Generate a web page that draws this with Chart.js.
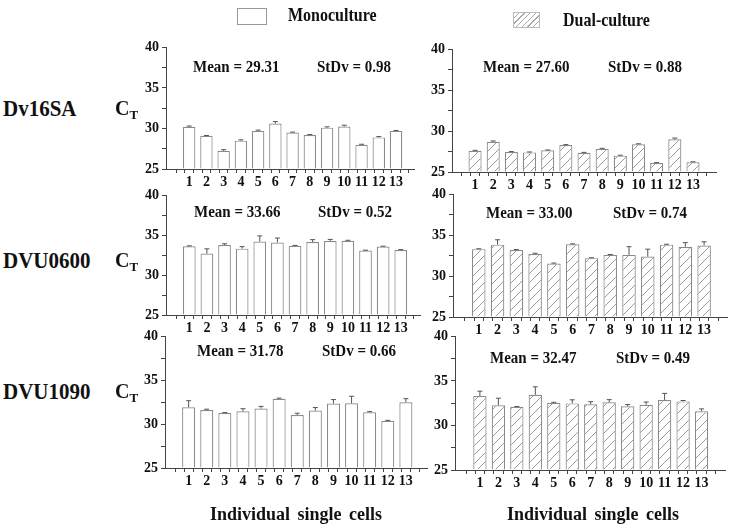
<!DOCTYPE html>
<html>
<head>
<meta charset="utf-8">
<script src="https://cdn.jsdelivr.net/npm/chart.js@4.4.1/dist/chart.umd.min.js"></script>
<style>
  body { margin: 0; background: #fff; }
  #page { position: relative; width: 732px; height: 529px; overflow: hidden;
          font-family: 'Liberation Serif', 'Times New Roman', serif; font-weight: bold; color: #111; }
  #page canvas { position: absolute; }
  .txt { position: absolute; line-height: 1; transform: translateY(-50%); white-space: nowrap; }
  .stat { font-size: 15px; transform: translateY(-50%) scaleY(1.15); }
  .gene { font-size: 21px; transform: translateY(-50%) scaleY(1.08); }
  .ct { font-size: 20px; }
  .ct sub { font-size: 13px; vertical-align: -4px; }
  .xtitle { font-size: 18px; word-spacing: 3px; transform: translate(-50%, -50%) scaleY(1.1); }
  .legtxt { font-size: 16px; transform: translateY(-50%) scaleY(1.15); }
  .box { position: absolute; box-sizing: border-box; border: 1px solid #999; background: #fff; }
  .box.hatch { border-color: #bbb;
    background: repeating-linear-gradient(135deg, #fff 0px, #fff 3px, #aaa 3px, #aaa 4px); }
</style>
</head>
<body>
<div id="page"></div>
<script>
// individual single cells (x axis)
const cells = [1, 2, 3, 4, 5, 6, 7, 8, 9, 10, 11, 12, 13];
const yTickLabels = [25, 30, 35, 40];
const genes = ['Dv16SA', 'DVU0600', 'DVU1090'];
const seriesNames = ['Monoculture', 'Dual-culture'];

// CT values, with error bars
const monoDv16SA     = [30.2, 29.08, 27.24, 28.5, 29.7, 30.6, 29.5, 29.2, 30.1, 30.25, 28.0, 28.9, 29.7];
const monoDv16SAErr  = [0.1, 0.05, 0.15, 0.1, 0.1, 0.25, 0.05, 0.05, 0.1, 0.15, 0.05, 0.1, 0.05];
const dualDv16SA     = [27.6, 28.7, 27.45, 27.4, 27.65, 28.3, 27.35, 27.85, 27.0, 28.4, 26.1, 29.0, 26.2];
const dualDv16SAErr  = [0.05, 0.1, 0.05, 0.05, 0.05, 0.05, 0.05, 0.05, 0.05, 0.05, 0.05, 0.15, 0.05];
const monoDVU0600    = [33.62, 32.7, 33.78, 33.32, 34.22, 34.1, 33.68, 34.15, 34.28, 34.32, 33.08, 33.58, 33.15];
const monoDVU0600Err = [0.05, 0.6, 0.15, 0.25, 0.7, 0.55, 0.05, 0.3, 0.2, 0.05, 0.05, 0.05, 0.05];
const dualDVU0600    = [33.3, 33.85, 33.2, 32.7, 31.55, 33.9, 32.2, 32.6, 32.6, 32.4, 33.85, 33.6, 33.75];
const dualDVU0600Err = [0.05, 0.6, 0.05, 0.1, 0.05, 0.05, 0.05, 0.05, 1.0, 0.9, 0.05, 0.5, 0.45];
const monoDVU1090    = [31.92, 31.6, 31.27, 31.46, 31.77, 32.88, 31.04, 31.54, 32.35, 32.38, 31.35, 30.38, 32.5];
const monoDVU1090Err = [0.75, 0.1, 0.05, 0.3, 0.25, 0.08, 0.2, 0.35, 0.45, 0.8, 0.08, 0.05, 0.4];
const dualDVU1090    = [33.3, 32.26, 32.1, 33.44, 32.55, 32.48, 32.37, 32.6, 32.15, 32.33, 32.85, 32.7, 31.6];
const dualDVU1090Err = [0.55, 0.8, 0.03, 0.9, 0.05, 0.4, 0.3, 0.3, 0.2, 0.3, 0.75, 0.1, 0.26];

const means = ['29.31', '27.60', '33.66', '33.00', '31.78', '32.47'];
const stdvs = ['0.98', '0.88', '0.52', '0.74', '0.66', '0.49'];

// pixel layout of each panel: l/r = x axis ends, x0 = pixel of x=0, t/b = pixel of 40 / 25
const layout = [
  { l: 166, r: 414, x0: 167.4, sp: 17.9,  t: 46,  b: 169, mx: 193, sx: 317, ty: 67 },
  { l: 452, r: 716, x0: 452,   sp: 18.86, t: 48,  b: 172, mx: 483, sx: 608, ty: 67 },
  { l: 166, r: 420, x0: 167,   sp: 18.3,  t: 194, b: 315, mx: 194, sx: 318, ty: 212 },
  { l: 453, r: 727, x0: 455,   sp: 19.5,  t: 193, b: 317, mx: 486, sx: 613, ty: 213 },
  { l: 165, r: 427, x0: 165.7, sp: 18.8,  t: 335, b: 468, mx: 197, sx: 322, ty: 351 },
  { l: 455, r: 725, x0: 456.5, sp: 19.18, t: 335, b: 470, mx: 490, sx: 616, ty: 358 }
];
const panels = [
  [monoDv16SA, monoDv16SAErr], [dualDv16SA, dualDv16SAErr],
  [monoDVU0600, monoDVU0600Err], [dualDVU0600, dualDVU0600Err],
  [monoDVU1090, monoDVU1090Err], [dualDVU1090, dualDVU1090Err]
];

const page = document.getElementById('page');
function addText(cls, html, x, y) {
  const d = document.createElement('div');
  d.className = 'txt ' + cls;
  d.innerHTML = html;
  d.style.left = x + 'px';
  d.style.top = y + 'px';
  page.appendChild(d);
  return d;
}

// hatch pattern for dual-culture bars
function hatchPattern() {
  const c = document.createElement('canvas');
  c.width = 9; c.height = 9;
  const g = c.getContext('2d');
  g.fillStyle = '#fff';
  g.fillRect(0, 0, 9, 9);
  g.strokeStyle = '#9a9a9a';
  g.lineWidth = 1;
  g.beginPath();
  g.moveTo(0, 9); g.lineTo(9, 0);
  g.moveTo(-1, 1); g.lineTo(1, -1);
  g.moveTo(8, 10); g.lineTo(10, 8);
  g.stroke();
  return g.createPattern(c, 'repeat');
}
const hatch = hatchPattern();

// error bars drawn on top of bars
const errorBars = {
  id: 'errorBars',
  afterDatasetsDraw(chart) {
    const ctx = chart.ctx;
    const ds = chart.data.datasets[0];
    const yScale = chart.scales.y;
    ctx.save();
    ctx.strokeStyle = '#555';
    ctx.lineWidth = 1;
    chart.getDatasetMeta(0).data.forEach((bar, i) => {
      const top = yScale.getPixelForValue(ds.data[i].y + ds.errors[i]);
      ctx.beginPath();
      ctx.moveTo(bar.x, bar.y);
      ctx.lineTo(bar.x, top);
      ctx.moveTo(bar.x - 2.5, top);
      ctx.lineTo(bar.x + 2.5, top);
      ctx.stroke();
    });
    ctx.restore();
  }
};

const YW = 40, PT = 10, XH = 26, PR = 4;
const tickFont = { family: "'Liberation Serif', serif", weight: 'bold', size: 14 };

panels.forEach((p, k) => {
  const L = layout[k];
  const cv = document.createElement('canvas');
  const w = YW + (L.r - L.l) + PR;
  const h = PT + (L.b - L.t) + XH;
  cv.width = w; cv.height = h;
  cv.style.left = (L.l - YW) + 'px';
  cv.style.top = (L.t - PT) + 'px';
  cv.style.width = w + 'px';
  cv.style.height = h + 'px';
  page.appendChild(cv);

  const values = p[0], errors = p[1];
  new Chart(cv.getContext('2d'), {
    type: 'bar',
    data: {
      datasets: [{
        data: cells.map((c, i) => ({ x: c, y: values[i] })),
        errors: errors,
        base: 25,
        backgroundColor: k % 2 ? hatch : '#fff',
        borderColor: '#8a8a8a',
        borderWidth: 1.2,
        categoryPercentage: 1,
        // ticks sit every half cell, so the ruler is half a cell wide
        barPercentage: 1.44
      }]
    },
    options: {
      responsive: false,
      animation: false,
      devicePixelRatio: 1,
      layout: { padding: { top: PT, right: PR, left: 0, bottom: 0 } },
      plugins: { legend: { display: false }, tooltip: { enabled: false } },
      scales: {
        x: {
          type: 'linear',
          min: (L.l - L.x0) / L.sp,
          max: (L.r - L.x0) / L.sp,
          afterBuildTicks: s => { s.ticks = cells.flatMap(c => [{ value: c - 0.5 }, { value: c }]).concat([{ value: 13.5 }]); },
          afterFit: s => { s.height = XH; },
          ticks: {
            autoSkip: false, maxRotation: 0, padding: 1, color: '#111', font: tickFont,
            callback: v => Number.isInteger(v) ? String(v) : ''
          },
          grid: { drawOnChartArea: false, drawTicks: true, tickLength: 4, color: '#444' },
          border: { display: true, color: '#444', width: 1, z: 1 }
        },
        y: {
          min: 25, max: 40,
          afterBuildTicks: s => { s.ticks = [25, 27.5, 30, 32.5, 35, 37.5, 40].map(v => ({ value: v })); },
          afterFit: s => { s.width = YW; },
          ticks: {
            autoSkip: false, padding: 3, color: '#111', font: tickFont,
            callback: v => yTickLabels.includes(v) ? String(v) : ''
          },
          grid: { drawOnChartArea: false, drawTicks: true, tickLength: 4, color: '#444' },
          border: { display: true, color: '#444', width: 1, z: 1 }
        }
      }
    },
    plugins: [errorBars]
  });

  addText('stat', 'Mean = ' + means[k], L.mx, L.ty);
  addText('stat', 'StDv = ' + stdvs[k], L.sx, L.ty);
});

// row labels
const rowY = [109, 261, 392];
genes.forEach((g, i) => {
  addText('gene', g, 3, rowY[i]);
  addText('ct', 'C<sub>T</sub>', 115, rowY[i]);
});

// x axis titles
addText('xtitle', 'Individual single cells', 296, 513);
addText('xtitle', 'Individual single cells', 593, 513);

// legend
function addBox(cls, x, y, w, h) {
  const b = document.createElement('div');
  b.className = 'box ' + cls;
  b.style.left = x + 'px'; b.style.top = y + 'px';
  b.style.width = w + 'px'; b.style.height = h + 'px';
  page.appendChild(b);
}
addBox('', 237, 8, 30, 17);
addText('legtxt', seriesNames[0], 288, 15);
addBox('hatch', 513, 12, 27, 16);
addText('legtxt', seriesNames[1], 563, 20);
</script>
</body>
</html>
